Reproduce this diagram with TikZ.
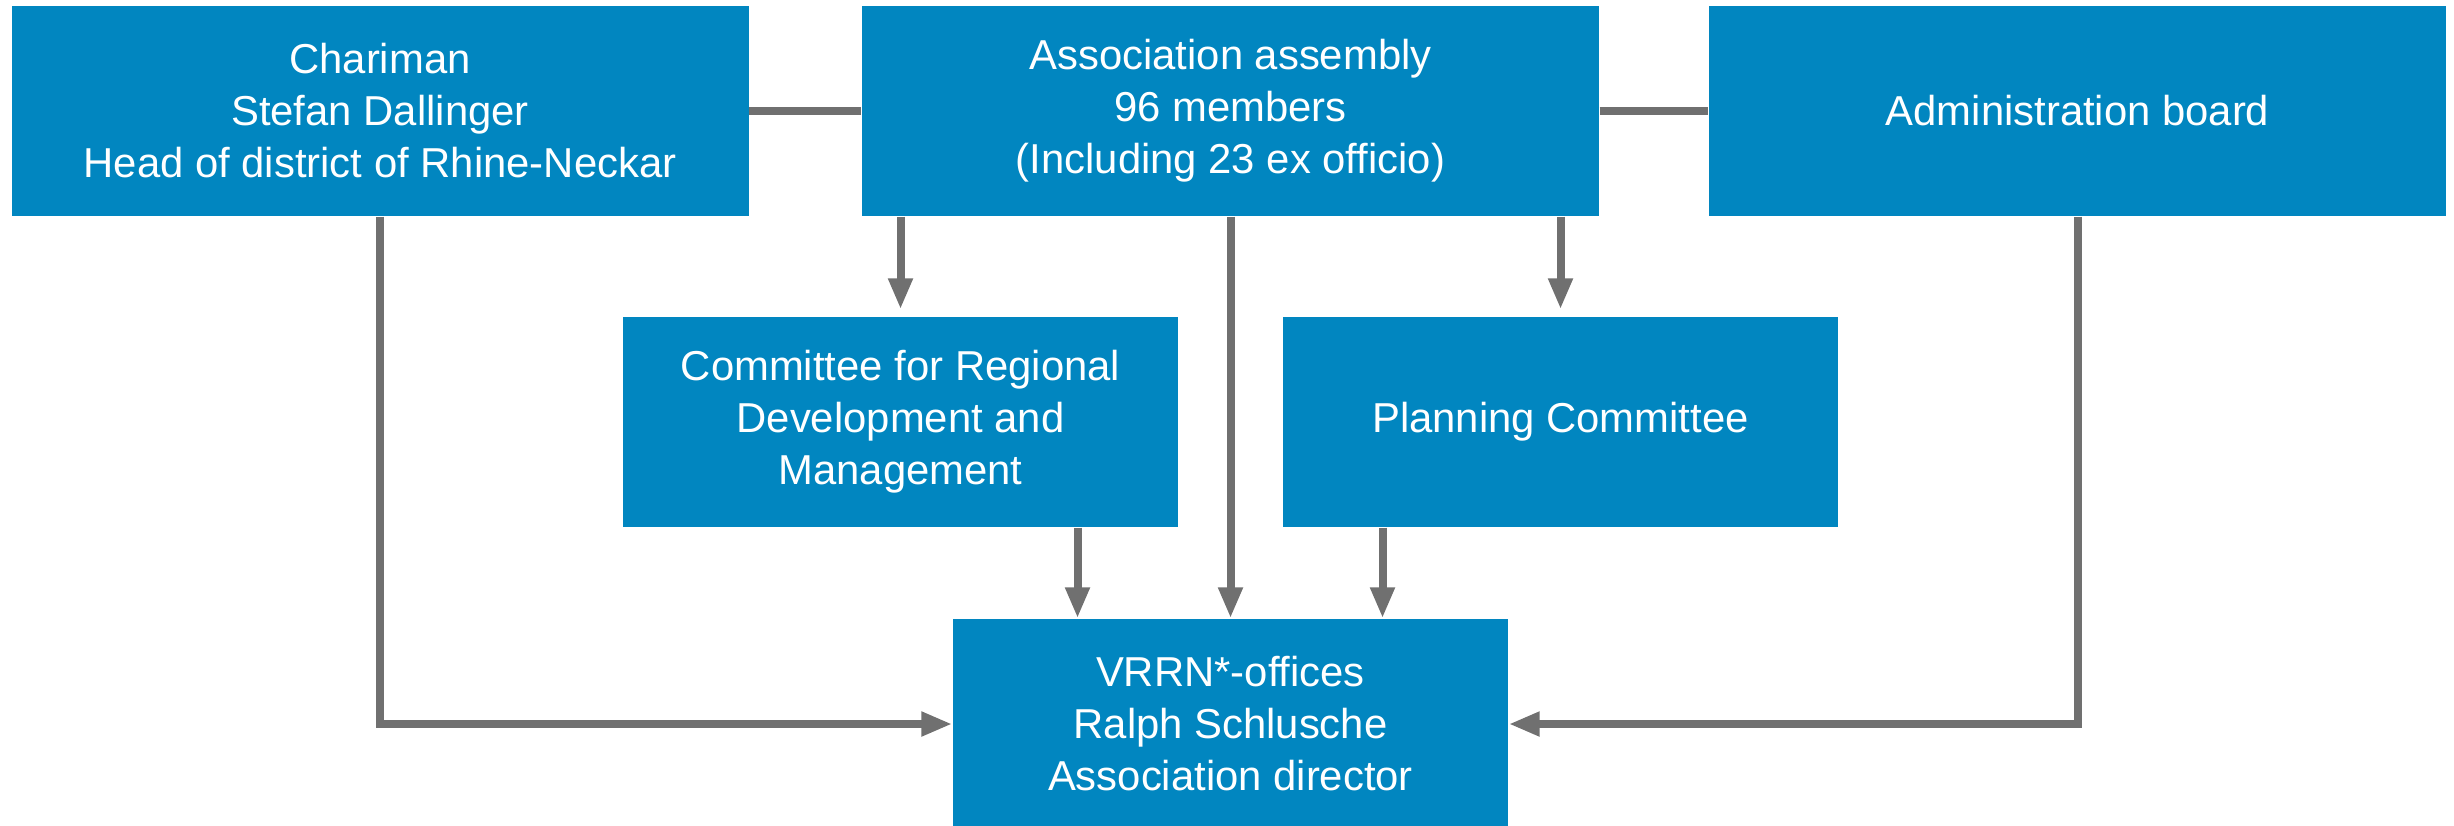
\documentclass[tikz,border=0pt]{standalone}
\usepackage{fontspec}
\setmainfont{Liberation Sans}
\usetikzlibrary{arrows.meta}
\definecolor{boxblue}{RGB}{1,134,192}
\definecolor{linegray}{RGB}{112,112,112}

\begin{document}
\begin{tikzpicture}[font=\fontsize{11.9}{14.8}\selectfont,
box/.style={fill=boxblue, text=white, align=center, inner sep=0pt,
    minimum width=7.37cm, minimum height=2.1cm},
small box/.style={box, minimum width=5.55cm},
link/.style={draw=linegray, line width=0.08cm},
arrow/.style={link, -{Triangle[length=3.1mm,width=2.3mm]}}]
\useasboundingbox (0,0) rectangle (24.54,-8.25);
% top row
\node[box] (chair) at (3.80,-1.11) {Chariman\\Stefan Dallinger\\Head of district of Rhine-Neckar};
\node[box] (assoc) at (12.305,-1.11) {Association assembly\\96 members\\(Including 23 ex officio)};
\node[box] (admin) at (20.775,-1.11) {Administration board};
% committees
\node[small box] (regional) at (9.005,-4.22) {Committee for Regional\\Development and\\Management};
\node[small box] (planning) at (15.605,-4.22) {Planning Committee};
% offices
\node[small box] (vrrn) at (12.305,-7.24) {VRRN*-offices\\Ralph Schlusche\\Association director};
\coordinate (in-left) at ([xshift=-1.53cm]vrrn.north);
\coordinate (in-right) at ([xshift=1.52cm]vrrn.north);
% connectors
\draw[link] (chair) -- (assoc);
\draw[link] (assoc) -- (admin);
\draw[arrow] (chair.south) |- (vrrn.west);
\draw[arrow] (admin.south) |- (vrrn.east);
\draw[arrow, shorten >=0.07cm] (assoc.south -| regional.north) -- (regional.north);
\draw[arrow, shorten >=0.07cm] (assoc.south -| planning.north) -- (planning.north);
\draw[arrow] (assoc) -- (vrrn);
\draw[arrow] (regional.south -| in-left) -- (in-left);
\draw[arrow] (planning.south -| in-right) -- (in-right);
\end{tikzpicture}
\end{document}
